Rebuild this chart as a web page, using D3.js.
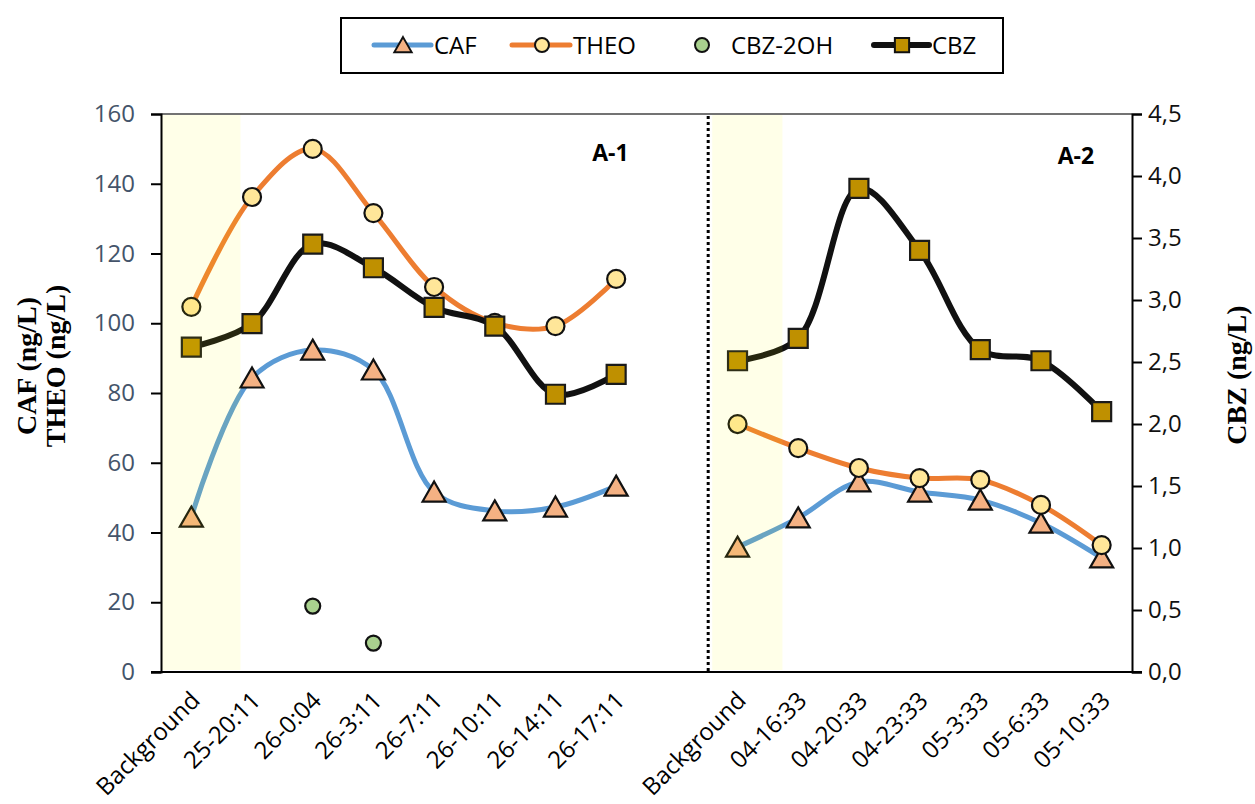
<!DOCTYPE html>
<html>
<head>
<meta charset="utf-8">
<script src="https://cdn.jsdelivr.net/npm/d3@7"></script>
<style>
  html, body { margin: 0; padding: 0; background: #fff; }
  svg { display: block; }
</style>
</head>
<body>
<svg id="chart" width="1255" height="804"></svg>
<script>
// Sampling times for the two campaigns (A-1 and A-2)
const timesA1 = ["Background", "25-20:11", "26-0:04", "26-3:11", "26-7:11", "26-10:11", "26-14:11", "26-17:11"];
const timesA2 = ["Background", "04-16:33", "04-20:33", "04-23:33", "05-3:33", "05-6:33", "05-10:33"];

// Concentrations, ng/L (CAF, THEO, CBZ-2OH on the left axis; CBZ on the right axis)
const cafA1 = [44.4, 84.3, 92.3, 86.6, 51.6, 46.2, 47.3, 53.3];
const theoA1 = [104.7, 136.2, 150.0, 131.6, 110.4, 100.1, 99.2, 112.7];
const cbz2ohA1 = [null, null, 18.9, 8.3, null, null, null, null];
const cbzA1 = [2.62, 2.81, 3.45, 3.26, 2.94, 2.79, 2.24, 2.40];

const cafA2 = [35.8, 44.2, 54.5, 51.6, 49.3, 42.7, 32.7];
const theoA2 = [71.1, 64.2, 58.5, 55.6, 55.1, 47.9, 36.4];
const cbzA2 = [2.51, 2.69, 3.90, 3.40, 2.60, 2.51, 2.10];

// Axis ticks
const leftTicks = [0, 20, 40, 60, 80, 100, 120, 140, 160];
const rightTicks = [0, 0.5, 1, 1.5, 2, 2.5, 3, 3.5, 4, 4.5];

const legendNames = ["CAF", "THEO", "CBZ-2OH", "CBZ"];

// ---------------------------------------------------------------
const svg = d3.select("#chart");
const plot = { left: 161, right: 1132, top: 114, bottom: 672 };
const FONT = "'Open Sans', 'DejaVu Sans', sans-serif";

// One band per sampling slot, plus one empty slot separating the campaigns
const keysA1 = timesA1.map(t => "A1|" + t);
const keysA2 = timesA2.map(t => "A2|" + t);
const domain = [...keysA1, "gap", ...keysA2];

const x = d3.scaleBand().domain(domain).range([plot.left, plot.right]).padding(0);
const cx = k => x(k) + x.bandwidth() / 2;
const yL = d3.scaleLinear().domain([0, 160]).range([plot.bottom, plot.top]);
const yR = d3.scaleLinear().domain([0, 4.5]).range([plot.bottom, plot.top]);

const colors = { caf: "#5B9BD5", theo: "#ED7D31", cbz2oh: "#A9D18E", cbz: "#111111" };
const fills = { caf: "#F4B183", theo: "#FFE699", cbz2oh: "#A9D18E", cbz: "#BF9000" };

const triPath = s => `M0,${-10.5 * s}L${11.5 * s},${9.5 * s}L${-11.5 * s},${9.5 * s}Z`;
const sqPath = s => `M${-9.5 * s},${-9.5 * s}H${9.5 * s}V${9.5 * s}H${-9.5 * s}Z`;

const lineGen = (y) => d3.line()
  .defined(d => d.v != null)
  .x(d => cx(d.k))
  .y(d => y(d.v))
  .curve(d3.curveCatmullRom.alpha(0.5));

const pair = (keys, vals) => keys.map((k, i) => ({ k, v: vals[i] }));

// Top frame line
svg.append("line")
  .attr("x1", plot.left).attr("x2", plot.right)
  .attr("y1", plot.top).attr("y2", plot.top)
  .attr("stroke", "#444").attr("stroke-width", 1.5);

// Series drawing helper
function drawSeries(data, y, key, marker, withLine) {
  const g = svg.append("g");
  if (withLine) {
    g.append("path")
      .datum(data)
      .attr("d", lineGen(y))
      .attr("fill", "none")
      .attr("stroke", colors[key])
      .attr("stroke-width", key === "cbz" ? 6 : 5)
      .attr("stroke-linejoin", "round")
      .attr("stroke-linecap", "round");
  }
  const pts = data.filter(d => d.v != null);
  const m = g.selectAll(".m").data(pts).enter();
  if (marker === "tri") {
    m.append("path").attr("d", triPath(1))
      .attr("transform", d => `translate(${cx(d.k)},${y(d.v)})`)
      .attr("fill", fills[key]).attr("stroke", "#111").attr("stroke-width", 2.2);
  } else if (marker === "sq") {
    m.append("path").attr("d", sqPath(1))
      .attr("transform", d => `translate(${cx(d.k)},${y(d.v)})`)
      .attr("fill", fills[key]).attr("stroke", "#1a1a1a").attr("stroke-width", 2.2);
  } else {
    m.append("circle")
      .attr("cx", d => cx(d.k)).attr("cy", d => y(d.v))
      .attr("r", marker === "circleSmall" ? 7.5 : 9)
      .attr("fill", fills[key]).attr("stroke", "#111").attr("stroke-width", 2.2);
  }
}

// Draw in series order: CAF, THEO, CBZ-2OH, CBZ (secondary axis)
drawSeries(pair(keysA1, cafA1), yL, "caf", "tri", true);
drawSeries(pair(keysA2, cafA2), yL, "caf", "tri", true);
drawSeries(pair(keysA1, theoA1), yL, "theo", "circle", true);
drawSeries(pair(keysA2, theoA2), yL, "theo", "circle", true);
drawSeries(pair(keysA1, cbz2ohA1), yL, "cbz2oh", "circleSmall", false);
drawSeries(pair(keysA1, cbzA1), yR, "cbz", "sq", true);
drawSeries(pair(keysA2, cbzA2), yR, "cbz", "sq", true);

// Translucent highlight over the background samples of each campaign
const bw = x.bandwidth();
const highlight = [
  { x0: x(keysA1[0]) + 1, x1: x(keysA1[0]) + bw * 1.31 },
  { x0: x(keysA2[0]) + 5, x1: x(keysA2[0]) + bw * 1.24 }
];
svg.append("g").selectAll("rect").data(highlight).enter().append("rect")
  .attr("x", d => d.x0).attr("width", d => d.x1 - d.x0)
  .attr("y", plot.top + 1).attr("height", plot.bottom - plot.top - 3)
  .attr("fill", "#FFFF00").attr("fill-opacity", 0.09);

// Dotted separator between campaigns
const sepX = x(keysA2[0]) + 1;
svg.append("line")
  .attr("x1", sepX).attr("x2", sepX)
  .attr("y1", plot.top + 2).attr("y2", plot.bottom)
  .attr("stroke", "#000").attr("stroke-width", 3)
  .attr("stroke-dasharray", "3,3");

// Left axis
const axL = svg.append("g").attr("transform", `translate(${plot.left},0)`)
  .call(d3.axisLeft(yL).tickValues(leftTicks).tickSize(10).tickPadding(16));
axL.select(".domain").attr("stroke", "#000").attr("stroke-width", 2);
axL.selectAll(".tick line").attr("stroke", "#000").attr("stroke-width", 2);
axL.selectAll(".tick text").attr("font-family", FONT).attr("font-size", 24).attr("fill", "#44546A");

// Right axis
const fmtR = d => d3.format(".1f")(d).replace(".", ",");
const axR = svg.append("g").attr("transform", `translate(${plot.right},0)`)
  .call(d3.axisRight(yR).tickValues(rightTicks).tickSize(10).tickPadding(6).tickFormat(fmtR));
axR.select(".domain").attr("stroke", "#000").attr("stroke-width", 2);
axR.selectAll(".tick line").attr("stroke", "#000").attr("stroke-width", 2);
axR.selectAll(".tick text").attr("font-family", FONT).attr("font-size", 24).attr("fill", "#111");

// Bottom axis line
svg.append("line")
  .attr("x1", plot.left - 10).attr("x2", plot.right + 10)
  .attr("y1", plot.bottom).attr("y2", plot.bottom)
  .attr("stroke", "#000").attr("stroke-width", 2);

// Category labels, rotated
const catLabels = [...keysA1, ...keysA2];
svg.append("g").selectAll("text").data(catLabels).enter().append("text")
  .attr("transform", k => `translate(${cx(k) + 4},${plot.bottom + 24}) rotate(-45)`)
  .attr("text-anchor", "end")
  .attr("dy", "0.35em")
  .attr("font-family", FONT).attr("font-size", 24).attr("fill", "#000")
  .text(k => k.split("|")[1]);

// Panel tags
svg.append("text").attr("x", cx(keysA1[6]) + 55).attr("y", 161)
  .attr("text-anchor", "middle").attr("font-family", FONT).attr("font-weight", 700)
  .attr("font-size", 23).attr("fill", "#000").text("A-1");
svg.append("text").attr("x", cx(keysA2[5]) + 35).attr("y", 164)
  .attr("text-anchor", "middle").attr("font-family", FONT).attr("font-weight", 700)
  .attr("font-size", 23).attr("fill", "#000").text("A-2");

// Axis titles
const SERIF = "'Liberation Serif', 'Times New Roman', serif";
svg.append("text").attr("transform", "translate(36,366) rotate(-90)")
  .attr("text-anchor", "middle").attr("font-family", SERIF).attr("font-weight", 700)
  .attr("font-size", 28).text("CAF (ng/L)");
svg.append("text").attr("transform", "translate(65,366) rotate(-90)")
  .attr("text-anchor", "middle").attr("font-family", SERIF).attr("font-weight", 700)
  .attr("font-size", 28).text("THEO (ng/L)");
svg.append("text").attr("transform", "translate(1246,375) rotate(-90)")
  .attr("text-anchor", "middle").attr("font-family", SERIF).attr("font-weight", 700)
  .attr("font-size", 28).text("CBZ (ng/L)");

// Legend
const lg = svg.append("g");
lg.append("rect").attr("x", 341).attr("y", 18).attr("width", 662).attr("height", 55)
  .attr("fill", "#fff").attr("stroke", "#000").attr("stroke-width", 2);
const ly = 45;
const legendItems = [
  { name: legendNames[0], key: "caf", line: [374, 431], mx: 403, tx: 434, marker: "tri" },
  { name: legendNames[1], key: "theo", line: [512, 570], mx: 542, tx: 573, marker: "circle" },
  { name: legendNames[2], key: "cbz2oh", line: null, mx: 702, tx: 731, marker: "circleSmall" },
  { name: legendNames[3], key: "cbz", line: [874, 929], mx: 902, tx: 932, marker: "sq" }
];
legendItems.forEach(it => {
  if (it.line) {
    lg.append("line").attr("x1", it.line[0]).attr("x2", it.line[1])
      .attr("y1", ly).attr("y2", ly).attr("stroke", colors[it.key])
      .attr("stroke-width", it.key === "cbz" ? 6 : 5).attr("stroke-linecap", "round");
  }
  if (it.marker === "tri") {
    lg.append("path").attr("d", triPath(0.75)).attr("transform", `translate(${it.mx},${ly})`)
      .attr("fill", fills[it.key]).attr("stroke", "#111").attr("stroke-width", 2);
  } else if (it.marker === "sq") {
    lg.append("path").attr("d", sqPath(0.75)).attr("transform", `translate(${it.mx},${ly})`)
      .attr("fill", fills[it.key]).attr("stroke", "#111").attr("stroke-width", 2);
  } else {
    lg.append("circle").attr("cx", it.mx).attr("cy", ly).attr("r", 7)
      .attr("fill", fills[it.key]).attr("stroke", "#111").attr("stroke-width", 2);
  }
  lg.append("text").attr("x", it.tx).attr("y", ly + 9)
    .attr("font-family", FONT).attr("font-size", 24).attr("fill", "#000").text(it.name);
});
</script>
</body>
</html>
